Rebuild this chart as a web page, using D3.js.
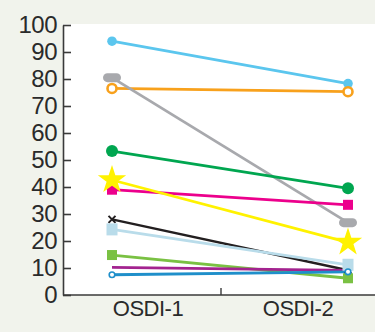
<!DOCTYPE html>
<html><head><meta charset="utf-8">
<script src="https://cdn.jsdelivr.net/npm/d3@7"></script>
<style>body{margin:0;background:#f1f3ec;}svg{display:block;}</style>
</head><body>
<svg id="c" width="375" height="332"></svg>
<script>
const categories = ["OSDI-1", "OSDI-2"];
const yTicks = [0,10,20,30,40,50,60,70,80,90,100];
const seriesNames = ["s1","s2","s3","s4","s5","s6","s7","s8","s9","s10","s11"];
const osdi1 = [94, 76.5, 80.5, 53.3, 39, 42.6, 28, 24.3, 14.8, 10.2, 7.5];
const osdi2 = [78.3, 75.3, 26.8, 39.5, 33.4, 19.5, 9.2, 11.2, 6.2, 9.1, 8.6];
const colors = ["#5bc6ee","#f8a11c","#a8a9ad","#00a650","#ec008c","#fff200","#231f20","#b9dcea","#7ac143","#a3238f","#1f8fca"];
const markers = ["dot","ring","pill","bigdot","square","star","cross","bigsquare","square","none","smallring"];

const svg = d3.select("#c");
const x = d3.scalePoint().domain(categories).range([112, 348]);
const y = d3.scaleLinear().domain([0,100]).range([295, 25]);

svg.append("rect").attr("x",63).attr("y",24).attr("width",312).attr("height",271).attr("fill","#fff");

const ya = svg.append("g").attr("transform","translate(63,0)")
  .call(d3.axisLeft(y).tickValues(yTicks).tickSize(-8).tickSizeOuter(0).tickPadding(6));
ya.select(".domain").attr("stroke","#3a3a3a").attr("stroke-width",1.6);
ya.selectAll(".tick line").attr("stroke","#3a3a3a").attr("stroke-width",1.6);
ya.selectAll(".tick text").attr("font-family","Liberation Sans, Arial, sans-serif")
  .attr("font-size",24).attr("fill","#2a2a2a").attr("letter-spacing","-0.5");

svg.append("line").attr("x1",63).attr("x2",375).attr("y1",295).attr("y2",295)
  .attr("stroke","#3a3a3a").attr("stroke-width",1.6);
svg.append("line").attr("x1",221).attr("x2",221).attr("y1",288).attr("y2",295)
  .attr("stroke","#3a3a3a").attr("stroke-width",1.4);
const labelX = [148, 298];
categories.forEach((c,i)=>{
  svg.append("text").attr("x",labelX[i]).attr("y",316).attr("text-anchor","middle")
    .attr("font-family","Liberation Sans, Arial, sans-serif").attr("font-size",22)
    .attr("fill","#2a2a2a").attr("letter-spacing","-0.5").text(c);
});

const data = seriesNames.map((n,i)=>({name:n, vals:[osdi1[i], osdi2[i]], color:colors[i], marker:markers[i]}));

const line = d3.line().x((d,i)=>x(categories[i])).y(d=>y(d));
svg.selectAll(".ln").data(data).enter().append("path")
  .attr("d",d=>line(d.vals)).attr("fill","none")
  .attr("stroke",d=>d.color).attr("stroke-width",d=>d.marker==="cross"?2.5:2.8);

const star = d3.symbol().type(d3.symbolStar).size(250);
data.forEach(d=>{
  d.vals.forEach((v,i)=>{
    const cx = x(categories[i]), cy = y(v);
    const g = svg.append("g").attr("transform",`translate(${cx},${cy})`);
    switch(d.marker){
      case "dot": g.append("circle").attr("r",4.8).attr("fill",d.color); break;
      case "bigdot": g.append("circle").attr("r",6).attr("fill",d.color); break;
      case "ring": g.append("circle").attr("r",4.5).attr("fill","#fff").attr("stroke",d.color).attr("stroke-width",2.6); break;
      case "smallring": g.append("circle").attr("r",2.8).attr("fill","#fff").attr("stroke",d.color).attr("stroke-width",1.6); break;
      case "pill": g.append("rect").attr("x",-9).attr("y",-4.5).attr("width",18).attr("height",9).attr("rx",4.5).attr("fill",d.color); break;
      case "square": g.append("rect").attr("x",-5).attr("y",-5).attr("width",10).attr("height",10).attr("fill",d.color); break;
      case "bigsquare": g.append("rect").attr("x",-5.5).attr("y",-6).attr("width",11).attr("height",12).attr("fill",d.color); break;
      case "star": g.append("path").attr("d",star()).attr("fill",d.color); break;
      case "cross":
        g.append("path").attr("d","M-3.5,-3.5L3.5,3.5M-3.5,3.5L3.5,-3.5").attr("stroke",d.color).attr("stroke-width",2); break;
    }
  });
});
</script>
</body></html>
